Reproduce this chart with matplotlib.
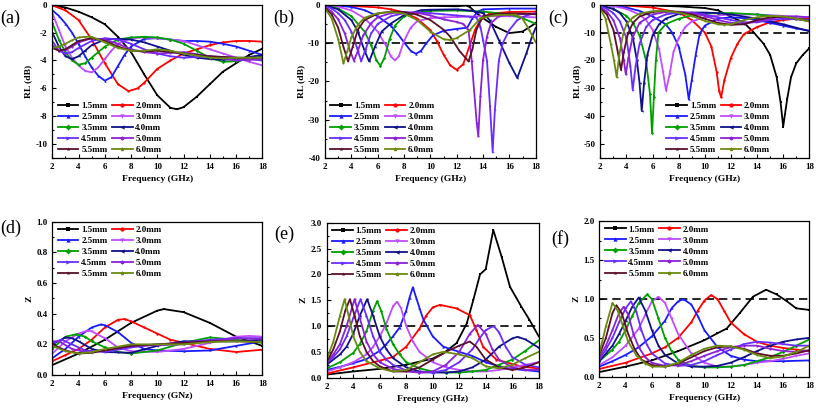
import matplotlib.pyplot as plt
from matplotlib.ticker import MultipleLocator, AutoMinorLocator, FormatStrFormatter

plt.rcParams['font.family'] = ['Liberation Serif', 'DejaVu Serif']
plt.rcParams['font.weight'] = 'bold'
plt.rcParams['axes.labelweight'] = 'bold'

thick = ['1.5mm', '2.0mm', '2.5mm', '3.0mm', '3.5mm', '4.0mm', '4.5mm', '5.0mm', '5.5mm', '6.0mm']
colors = ['#000000', '#ff0000', '#1a1aff', '#c04cff', '#00a000', '#10108a', '#6a2cff', '#8a22d8', '#5a0f2a', '#6b8a10']
markers = ['s', 'o', '^', 'v', 'D', '<', '>', 'h', '*', 'p']

# (a) RL, sample 1
a_x = [
    [2, 3, 4, 5, 6, 7, 8, 9, 10, 11, 11.5, 12, 13, 14, 15, 16, 17, 18],
    [2, 3, 4, 5, 6, 7, 7.8, 8.5, 9, 10, 11, 12, 13, 14, 15, 16, 17, 18],
    [2, 2.5, 3, 3.5, 4, 4.5, 5, 5.5, 6, 6.5, 7, 7.5, 8, 9, 10, 11, 12, 13, 14, 15, 16, 17, 18],
    [2, 2.5, 3, 3.5, 4, 4.5, 5, 5.5, 6, 6.5, 7, 8, 9, 10, 11, 12, 13, 14, 15, 16, 17, 18],
    [2, 2.5, 3, 3.5, 4, 4.5, 5, 5.5, 6, 7, 8, 9, 10, 11, 12, 13, 14, 15, 16, 17, 18],
    [2, 2.5, 3, 3.5, 4, 4.5, 5, 6, 7, 8, 9, 10, 11, 12, 13, 14, 15, 16, 17, 18],
    [2, 2.5, 3, 3.5, 4, 5, 6, 7, 8, 9, 10, 11, 12, 13, 14, 15, 16, 17, 18],
    [2, 2.5, 3, 3.5, 4, 5, 6, 7, 8, 9, 10, 11, 12, 13, 14, 15, 16, 17, 18],
    [2, 2.5, 3, 3.5, 4, 5, 6, 7, 8, 9, 10, 11, 12, 13, 14, 15, 16, 17, 18],
    [2, 2.5, 3, 3.5, 4, 4.5, 5, 6, 7, 8, 9, 10, 11, 12, 13, 14, 15, 16, 17, 18],
]
a_y = [
    [-0.05, -0.2, -0.5, -0.9, -1.4, -2.3, -3.4, -5.0, -6.5, -7.4, -7.5, -7.35, -6.6, -5.7, -4.8, -4.2, -3.6, -3.15],
    [-0.05, -0.4, -1.1, -2.5, -4.2, -5.7, -6.2, -6.0, -5.6, -4.6, -4.0, -3.5, -3.2, -2.9, -2.7, -2.6, -2.6, -2.65],
    [-0.4, -0.8, -1.35, -2.0, -2.8, -3.7, -4.5, -5.1, -5.45, -5.2, -4.4, -3.6, -3.0, -2.45, -2.4, -2.5, -2.6, -2.6, -2.65, -2.8, -3.0, -3.3, -3.6],
    [-0.6, -1.8, -3.0, -3.8, -4.35, -4.75, -4.85, -4.5, -3.9, -3.3, -2.8, -2.4, -2.35, -2.4, -2.5, -2.6, -2.9, -3.2, -3.5, -3.8, -4.1, -4.35],
    [-1.3, -2.5, -3.4, -4.0, -4.3, -4.2, -3.8, -3.4, -3.0, -2.5, -2.35, -2.3, -2.35, -2.5, -2.8, -3.3, -3.8, -4.1, -4.05, -3.9, -3.7],
    [-2.0, -3.0, -3.7, -3.9, -3.7, -3.3, -2.9, -2.5, -2.45, -2.5, -2.7, -3.0, -3.3, -3.6, -3.8, -3.9, -3.95, -3.9, -3.75, -3.6],
    [-2.6, -3.3, -3.5, -3.4, -3.1, -2.6, -2.4, -2.5, -2.8, -3.2, -3.5, -3.7, -3.8, -3.75, -3.7, -3.75, -3.8, -3.9, -4.0],
    [-2.9, -3.3, -3.25, -3.0, -2.7, -2.4, -2.5, -2.8, -3.2, -3.4, -3.5, -3.45, -3.4, -3.55, -3.7, -3.85, -4.0, -3.95, -3.9],
    [-3.1, -3.3, -3.2, -2.9, -2.6, -2.4, -2.6, -3.0, -3.3, -3.35, -3.3, -3.4, -3.5, -3.6, -3.7, -3.75, -3.8, -3.8, -3.8],
    [-3.1, -3.0, -2.8, -2.55, -2.35, -2.3, -2.3, -2.7, -3.1, -3.3, -3.3, -3.2, -3.3, -3.5, -3.65, -3.8, -3.85, -3.8, -3.8, -3.8],
]

# (b) RL, sample 2
b_x = [
    [2, 4, 6, 8, 10, 12, 12.7, 13, 13.5, 14, 15, 16, 17, 18],
    [2, 4, 6, 7, 8, 9, 10, 10.5, 11, 11.5, 12, 12.5, 13, 13.4, 13.8, 14.5, 16, 18],
    [2, 3, 4, 5, 6, 7, 7.5, 8, 8.5, 8.9, 9.3, 9.7, 10.2, 11, 12, 12.8, 13.2, 13.6, 14, 16, 18],
    [2, 3, 4, 5, 6, 6.6, 7, 7.3, 7.6, 8, 8.5, 9, 10, 11, 12, 13, 14, 16, 18],
    [2, 3, 4, 5, 5.5, 5.9, 6.2, 6.5, 6.9, 7.3, 8, 9, 10, 12, 14, 16, 17, 18],
    [2, 3, 4, 4.5, 5, 5.35, 5.8, 6.3, 7, 8, 9.3, 10, 12, 13, 14, 14.5, 15.2, 16, 16.6, 17.3, 17.7, 18],
    [2, 2.5, 3, 3.5, 4, 4.4, 4.75, 5.1, 5.5, 6, 7, 8, 9, 10, 11, 12, 13, 13.5, 13.8, 14, 14.3, 14.53, 14.73, 14.9, 15.2, 15.5, 16, 16.6, 17.3, 18],
    [2, 2.5, 3, 3.5, 3.9, 4.2, 4.5, 4.9, 5.5, 6, 7, 8, 9, 10, 11, 12, 12.5, 12.9, 13.14, 13.52, 13.64, 13.8, 14, 14.3, 14.6, 15.2, 16, 18],
    [2, 2.5, 3, 3.4, 3.75, 4.1, 4.5, 5, 6, 7, 8, 9, 10, 11, 11.5, 12.2, 12.9, 13.2, 13.5, 14, 15, 16, 17, 18],
    [2, 2.5, 3, 3.4, 3.7, 4, 4.5, 5, 6, 7, 8, 9, 10, 11, 11.5, 12, 13, 13.8, 15, 16.5, 17, 17.5, 18],
]
b_y = [
    [0, -0.05, -0.1, -0.2, -0.3, -0.4, -0.2, -0.6, -2.2, -3.5, -5.8, -7.4, -7.0, -4.8],
    [0, -0.3, -0.7, -1.2, -2.0, -3.6, -6.6, -9.5, -13, -15.8, -17.0, -15.5, -10.5, -6.5, -4.0, -2.3, -1.9, -1.8],
    [0, -0.2, -0.6, -1.4, -3.0, -5.5, -7.5, -9.8, -12, -12.8, -12, -10, -8, -6.8, -6.3, -6.0, -3.5, -1.8, -1.2, -1.0, -1.0],
    [0, -0.5, -1.5, -3.5, -7, -10.5, -13.5, -14.5, -13.5, -9.5, -6, -4.3, -3.5, -3.3, -3.2, -3.1, -3.0, -3.0, -3.3],
    [-0.1, -1, -3, -7, -10.5, -14.5, -15.9, -14, -9, -5.5, -3, -2, -1.6, -1.5, -1.8, -2.5, -3.5, -5],
    [-0.2, -1.2, -4, -7, -12, -14.8, -10.9, -7.0, -4.9, -2.7, -1.4, -1.3, -1.2, -1.5, -2.2, -4, -9.2, -15.2, -19.1, -12.6, -8.5, -6.0],
    [-0.3, -1, -2.2, -4, -7, -11, -14.7, -11.5, -7.5, -5, -3, -2.2, -2, -2.2, -2.5, -2.8, -3.1, -3.3, -5.7, -9.2, -14.6, -26.5, -38.4, -27.4, -14.6, -10, -6.6, -4.0, -2.8, -2.2],
    [-0.5, -1.8, -3.8, -7.5, -12, -14.6, -12, -8, -4.8, -3.3, -2.2, -1.9, -2.1, -2.8, -3.8, -4.5, -5, -6.6, -14.6, -30.8, -34.3, -23.9, -14.4, -8.3, -4.8, -3.0, -2.6, -2.3],
    [-0.8, -2.5, -6, -11, -14.8, -11, -6.5, -4, -2.3, -1.8, -1.9, -2.6, -4.0, -6.5, -8.3, -12, -14.8, -11.5, -6.5, -3.0, -2.4, -2.3, -2.3, -2.5],
    [-1.0, -3.5, -9, -15.3, -12, -8.5, -5.2, -3.4, -2.2, -1.9, -2.3, -4.0, -7.0, -9.0, -9.2, -8.7, -6.6, -3.5, -2.7, -2.6, -3.6, -6.5, -9.8],
]

# (c) RL, sample 3
c_x = [
    [2, 6, 8, 10, 11, 12, 13, 13.7, 14.5, 15, 15.5, 15.8, 16.0, 16.3, 16.6, 17, 17.5, 18],
    [2, 4, 6, 8, 9, 10, 10.5, 10.9, 11.1, 11.25, 11.5, 12, 12.5, 13, 14, 15, 16, 17, 18],
    [2, 3, 4, 5, 6, 7, 7.5, 8, 8.5, 8.77, 9.0, 9.3, 9.6, 10, 11, 12, 13, 14, 15, 16, 17, 18],
    [2, 3, 4, 5, 5.5, 6, 6.5, 6.8, 7.03, 7.3, 7.6, 8, 8.5, 9, 10, 11, 12, 14, 16, 18],
    [2, 3, 4, 4.5, 5, 5.5, 5.8, 5.96, 6.1, 6.25, 6.45, 7, 8, 9, 10, 11, 12, 14, 16, 18],
    [2, 3, 3.5, 4, 4.5, 4.8, 5.0, 5.17, 5.35, 5.6, 6, 6.5, 7, 8, 9, 10, 11, 12, 14, 16, 18],
    [2, 2.5, 3, 3.5, 4, 4.3, 4.48, 4.7, 5, 5.5, 6, 7, 8, 9, 10, 11, 12, 13, 14, 15, 16, 18],
    [2, 2.5, 3, 3.5, 3.8, 3.95, 4.15, 4.45, 5, 6, 7, 8, 9, 10, 11, 12, 13, 14, 15, 16, 17, 18],
    [2, 2.5, 3, 3.3, 3.58, 3.8, 4.1, 4.5, 5, 6, 7, 8, 9, 10, 11, 12, 13, 14, 15, 16, 17, 18],
    [2, 2.4, 2.8, 3.05, 3.25, 3.45, 3.75, 4.0, 4.5, 5, 6, 7, 8, 9, 10, 11, 11.5, 12, 13, 14, 15, 16, 17, 18],
]
c_y = [
    [0, -0.3, -0.6, -1.2, -2.0, -4.3, -6.5, -9.7, -14, -18, -26, -35, -43.7, -34, -26, -21, -18, -15.6],
    [0, -0.3, -1.0, -2.8, -5.5, -10, -15, -24, -31, -33.2, -27, -19, -14, -10.5, -8, -6.3, -5.5, -5.0, -4.8],
    [0, -0.3, -1.0, -2.2, -4.2, -7, -10, -15, -25, -33.9, -27, -18, -10.5, -7.5, -5, -4.5, -4.8, -5.5, -6.5, -7.5, -8.5, -9.3],
    [0, -0.5, -1.5, -3.5, -5.5, -9, -16, -24, -30.8, -25, -17, -12, -8, -6, -4.5, -3.8, -3.5, -3.5, -4, -4.5],
    [-0.3, -1.5, -4, -6.5, -11, -20, -32, -46.1, -33, -20, -10, -7, -5, -3.8, -3.2, -3.0, -3.0, -3.5, -4.5, -5.5],
    [-0.3, -1.5, -3, -6, -12, -20, -28, -38.1, -28, -18, -11, -7, -5, -3.3, -2.8, -2.8, -3.0, -3.5, -5, -7, -9.5],
    [-0.5, -1.5, -3, -6, -12, -22, -30.6, -22, -14, -8, -5.5, -3.5, -2.8, -2.8, -3.5, -4.5, -5.5, -6.3, -6.3, -5.5, -5.0, -5.5],
    [-0.9, -2.5, -5.5, -12, -20, -25, -19, -12, -6.5, -3.5, -2.6, -2.5, -3.0, -4.0, -5.5, -6.5, -6.8, -6.0, -5.0, -4.3, -4.2, -4.5],
    [-1.2, -3.5, -9, -16, -23.4, -17, -10.5, -6.5, -4.2, -2.6, -2.2, -2.6, -3.5, -5.0, -6.5, -7.2, -7.0, -5.5, -4.5, -4.3, -5.0, -6.0],
    [-1.5, -5, -14, -20, -26, -18, -10.5, -7, -4.5, -3.2, -2.3, -2.2, -2.8, -4.0, -5.8, -7.0, -7.2, -7.0, -5.5, -4.5, -4.0, -4.2, -5.0, -6.0],
]

# (d) Z, sample 1
d_x = [
    [2, 4, 6, 8, 10, 10.5, 12, 14, 16, 18],
    [2, 3, 4, 5, 6, 7, 7.5, 8, 9, 10, 11, 12, 14, 16, 18],
    [2, 3, 4, 5, 5.7, 6, 7, 8, 9, 10, 12, 14, 16, 18],
    [2, 3, 4, 4.7, 5, 6, 7, 8, 10, 12, 14, 16, 17, 18],
    [2, 3, 3.8, 4.5, 5, 6, 7, 8, 10, 12, 14, 16, 18],
    [2, 3, 3.5, 4, 5, 6, 8, 10, 12, 14, 16, 18],
    [2, 2.7, 3.5, 4.5, 6, 8, 10, 12, 14, 16, 18],
    [2, 2.5, 3.5, 4.5, 6, 8, 10, 12, 14, 16, 18],
    [2, 3, 4, 5, 6, 8, 10, 12, 14, 16, 18],
    [2, 3, 4, 5, 6, 8, 10, 12, 14, 16, 18],
]
d_y = [
    [0.065, 0.14, 0.23, 0.34, 0.42, 0.43, 0.41, 0.34, 0.25, 0.19],
    [0.09, 0.13, 0.17, 0.23, 0.31, 0.36, 0.365, 0.35, 0.31, 0.27, 0.23, 0.21, 0.17, 0.15, 0.165],
    [0.11, 0.17, 0.25, 0.31, 0.33, 0.325, 0.28, 0.21, 0.17, 0.16, 0.155, 0.16, 0.19, 0.22],
    [0.14, 0.22, 0.27, 0.29, 0.285, 0.24, 0.18, 0.155, 0.15, 0.17, 0.21, 0.25, 0.255, 0.25],
    [0.17, 0.25, 0.265, 0.25, 0.22, 0.18, 0.15, 0.14, 0.16, 0.21, 0.245, 0.23, 0.21],
    [0.2, 0.245, 0.24, 0.22, 0.17, 0.15, 0.145, 0.19, 0.22, 0.22, 0.22, 0.23],
    [0.21, 0.23, 0.2, 0.16, 0.15, 0.18, 0.2, 0.21, 0.23, 0.24, 0.24],
    [0.22, 0.22, 0.17, 0.15, 0.16, 0.19, 0.195, 0.2, 0.22, 0.24, 0.235],
    [0.2, 0.16, 0.14, 0.145, 0.16, 0.19, 0.2, 0.21, 0.22, 0.22, 0.215],
    [0.19, 0.155, 0.14, 0.15, 0.17, 0.2, 0.2, 0.2, 0.215, 0.22, 0.215],
]

# (e) Z, sample 2
e_x = [
    [2, 4, 6, 8, 10, 10.8, 11.8, 12.57, 13.06, 13.57, 14.0, 14.57, 15.2, 15.83, 16.7, 17.3, 18],
    [2, 4, 6, 7, 8, 9, 9.5, 10, 10.55, 11.8, 12.8, 13.3, 13.8, 14.8, 16.8, 18],
    [2, 3, 4, 5, 6, 6.5, 7, 7.5, 8, 8.25, 8.5, 8.75, 9, 9.3, 10, 10.8, 12, 13, 14, 15, 16, 18],
    [2, 3, 4, 5, 5.5, 6, 6.5, 7, 7.3, 7.6, 8, 8.5, 9, 10, 11, 12, 13, 14, 15, 16, 17, 18],
    [2, 3, 4, 4.5, 5, 5.5, 5.8, 6.1, 6.5, 7, 7.5, 8, 9, 10, 11, 12, 13, 14, 15, 16, 17, 18],
    [2, 3, 3.5, 4, 4.5, 5.05, 5.5, 6, 6.5, 7, 8, 9, 10, 11, 12, 13, 14, 15, 16, 16.4, 17, 18],
    [2, 2.5, 3, 3.5, 4, 4.55, 5, 5.5, 6, 6.5, 7, 8, 9, 10, 11, 12, 13, 13.5, 14, 14.6, 15, 15.5, 16, 17, 18],
    [2, 2.5, 3, 3.5, 4.1, 4.5, 5, 5.5, 6, 7, 8, 9, 10, 11, 12, 12.8, 13.4, 14, 14.5, 15, 16, 17, 18],
    [2, 2.5, 3, 3.4, 3.75, 4.1, 4.5, 5, 5.5, 6, 7, 8, 9, 10, 11, 12, 12.8, 13.3, 14, 15, 16, 17, 18],
    [2, 2.5, 3, 3.35, 3.7, 4, 4.5, 5, 6, 7, 8, 9, 10, 10.8, 12, 13, 14, 15, 16, 17, 18],
]
e_y = [
    [0.06, 0.12, 0.17, 0.25, 0.37, 0.47, 0.67, 1.05, 1.5, 2.0, 2.1, 2.86, 2.34, 1.76, 1.37, 1.12, 0.8],
    [0.08, 0.2, 0.33, 0.4, 0.6, 0.95, 1.2, 1.36, 1.41, 1.34, 1.21, 0.92, 0.6, 0.35, 0.21, 0.18],
    [0.15, 0.21, 0.28, 0.36, 0.52, 0.65, 0.8, 0.97, 1.3, 1.55, 1.75, 1.55, 1.35, 1.12, 0.8, 0.6, 0.5, 0.42, 0.3, 0.22, 0.17, 0.12],
    [0.12, 0.2, 0.3, 0.45, 0.6, 0.8, 1.05, 1.38, 1.47, 1.35, 1.0, 0.7, 0.5, 0.3, 0.2, 0.15, 0.12, 0.12, 0.15, 0.2, 0.25, 0.3],
    [0.18, 0.3, 0.48, 0.65, 0.9, 1.3, 1.48, 1.3, 0.95, 0.65, 0.45, 0.3, 0.18, 0.12, 0.1, 0.1, 0.12, 0.15, 0.25, 0.35, 0.52, 0.72],
    [0.25, 0.45, 0.6, 0.85, 1.2, 1.52, 1.2, 0.8, 0.55, 0.38, 0.2, 0.12, 0.1, 0.1, 0.12, 0.2, 0.35, 0.6, 0.76, 0.79, 0.74, 0.58],
    [0.28, 0.4, 0.55, 0.8, 1.15, 1.52, 1.2, 0.8, 0.5, 0.35, 0.25, 0.14, 0.1, 0.1, 0.15, 0.3, 0.55, 0.75, 0.92, 1.0, 0.88, 0.6, 0.4, 0.25, 0.2],
    [0.3, 0.45, 0.65, 1.0, 1.52, 1.15, 0.7, 0.45, 0.3, 0.17, 0.12, 0.1, 0.12, 0.25, 0.5, 0.85, 1.02, 0.85, 0.55, 0.35, 0.2, 0.15, 0.15],
    [0.3, 0.55, 0.9, 1.3, 1.52, 1.2, 0.8, 0.5, 0.32, 0.22, 0.12, 0.12, 0.2, 0.35, 0.5, 0.62, 0.7, 0.6, 0.35, 0.2, 0.15, 0.2, 0.3],
    [0.35, 0.7, 1.2, 1.52, 1.15, 0.8, 0.5, 0.32, 0.18, 0.12, 0.15, 0.3, 0.45, 0.5, 0.45, 0.38, 0.22, 0.18, 0.25, 0.38, 0.5],
]

# (f) Z, sample 3
f_x = [
    [2, 4, 6, 8, 10, 11, 11.7, 12.7, 13.7, 14.7, 15.5, 16.3, 17, 18],
    [2, 4, 6, 7, 8, 9, 9.5, 10, 10.5, 11, 11.5, 12, 13, 14, 15, 16, 17, 18],
    [2, 3, 4, 5, 6, 7, 7.5, 8, 8.4, 9, 9.5, 10, 11, 12, 13, 14, 16, 18],
    [2, 3, 4, 5, 5.5, 6, 6.5, 7, 7.5, 8, 9, 10, 11, 12, 13, 14, 15, 16, 17, 18],
    [2, 3, 3.5, 4, 4.5, 5, 5.65, 6, 6.5, 7, 7.5, 8, 9, 10, 11, 12, 13, 14, 15, 16, 17, 18],
    [2, 2.5, 3, 3.5, 4, 4.5, 5.0, 5.5, 6, 6.5, 7, 8, 9, 10, 11, 12, 13, 14, 15, 16, 17, 18],
    [2, 2.5, 3, 3.5, 4, 4.4, 4.8, 5.2, 5.6, 6, 7, 8, 9, 10, 11, 12, 13, 14, 15, 16, 17, 18],
    [2, 2.5, 3, 3.5, 3.85, 4.2, 4.6, 5, 5.5, 6, 7, 8, 9, 10, 11, 12, 13, 14, 15, 16, 17, 18],
    [2, 2.5, 3, 3.3, 3.7, 4.2, 4.7, 5.2, 6, 7, 8, 9, 10, 11, 12, 13, 14, 15, 16, 17, 18],
    [2, 2.5, 3.0, 3.4, 3.8, 4.2, 4.8, 5.5, 6, 7, 8, 9, 10, 11, 12, 13, 14, 15, 16, 17, 18],
]
f_y = [
    [0.06, 0.13, 0.21, 0.33, 0.47, 0.56, 0.62, 0.82, 1.03, 1.12, 1.06, 0.97, 0.88, 0.86],
    [0.1, 0.18, 0.3, 0.38, 0.5, 0.7, 0.85, 0.98, 1.05, 1.0, 0.85, 0.7, 0.55, 0.45, 0.4, 0.37, 0.35, 0.33],
    [0.13, 0.2, 0.28, 0.38, 0.52, 0.72, 0.88, 0.97, 1.0, 0.93, 0.78, 0.6, 0.38, 0.27, 0.22, 0.2, 0.2, 0.21],
    [0.15, 0.25, 0.4, 0.62, 0.8, 0.97, 1.03, 0.95, 0.75, 0.55, 0.3, 0.18, 0.13, 0.13, 0.15, 0.18, 0.2, 0.23, 0.27, 0.3],
    [0.2, 0.35, 0.45, 0.6, 0.78, 0.95, 1.06, 1.0, 0.75, 0.5, 0.33, 0.22, 0.14, 0.12, 0.12, 0.13, 0.15, 0.2, 0.25, 0.32, 0.4, 0.48],
    [0.2, 0.3, 0.4, 0.55, 0.72, 0.9, 1.02, 0.85, 0.6, 0.4, 0.28, 0.17, 0.13, 0.13, 0.14, 0.18, 0.25, 0.33, 0.4, 0.45, 0.48, 0.5],
    [0.22, 0.35, 0.5, 0.7, 0.88, 0.97, 0.85, 0.6, 0.42, 0.3, 0.17, 0.14, 0.15, 0.2, 0.28, 0.35, 0.42, 0.45, 0.44, 0.42, 0.4, 0.4],
    [0.25, 0.4, 0.6, 0.82, 0.9, 0.8, 0.55, 0.38, 0.25, 0.18, 0.14, 0.15, 0.2, 0.27, 0.33, 0.38, 0.4, 0.4, 0.36, 0.33, 0.32, 0.34],
    [0.28, 0.5, 0.82, 0.92, 0.82, 0.55, 0.35, 0.22, 0.15, 0.13, 0.17, 0.25, 0.33, 0.38, 0.39, 0.36, 0.3, 0.27, 0.27, 0.3, 0.34],
    [0.3, 0.65, 0.95, 0.85, 0.65, 0.45, 0.28, 0.17, 0.13, 0.13, 0.18, 0.28, 0.36, 0.4, 0.39, 0.35, 0.28, 0.24, 0.26, 0.32, 0.4],
]

fig = plt.figure(figsize=(8.16, 4.08), dpi=100)

panels = [
    # data, axes box, ylim, ystep, fmt, ylabel, xlabel, dashed, legend loc, anchor, tag, tag pos
    (a_x, a_y, [0.0641, 0.6127, 0.2574, 0.3757], (-11, 0), 2, '%d', 'RL (dB)', 'Frequency (GHz)', None, 'lower left', (0.0, -0.01), '(a)', (0.0, 0.955)),
    (b_x, b_y, [0.3983, 0.6127, 0.2582, 0.3757], (-40, 0), 10, '%d', 'RL (dB)', 'Frequency (GHz)', -10, 'lower left', (0.0, -0.01), '(b)', (0.335, 0.955)),
    (c_x, c_y, [0.7357, 0.6127, 0.2561, 0.3757], (-55, 0), 10, '%d', 'RL (dB)', 'Frequency (GHz)', -10, 'lower left', (0.29, -0.01), '(c)', (0.672, 0.955)),
    (d_x, d_y, [0.0641, 0.0809, 0.2574, 0.3757], (0, 1.0), 0.2, '%.1f', 'Z', 'Frequency (GNz)', None, 'upper left', (0.0, 1.01), '(d)', (0.0, 0.44)),
    (e_x, e_y, [0.4004, 0.0743, 0.2598, 0.3799], (0, 3.0), 0.5, '%.1f', 'Z', 'Frequency (GHz)', 1.0, 'upper left', (0.0, 1.01), '(e)', (0.336, 0.425)),
    (f_x, f_y, [0.7345, 0.0767, 0.2574, 0.3807], (0, 2.0), 0.5, '%.1f', 'Z', 'Frequency (GHz)', 1.0, 'upper left', (0.0, 1.01), '(f)', (0.676, 0.415)),
]

# legend is read row by row: 1.5 2.0 / 2.5 3.0 / ...
order = [0, 2, 4, 6, 8, 1, 3, 5, 7, 9]

for (xs, ys, box, ylim, ystep, fmt, ylab, xlab, dash, loc, anchor, tag, tagpos) in panels:
    ax = fig.add_axes(box)
    lines = []
    for i in range(len(thick)):
        ln, = ax.plot(xs[i], ys[i], color=colors[i], marker=markers[i], ms=1.7, lw=1.3,
                      mew=0, label=thick[i])
        lines.append(ln)
    if dash is not None:
        ax.axhline(dash, color='black', ls=(0, (5, 3)), lw=1.2, zorder=1)
    ax.set_xlim(2, 18)
    ax.set_ylim(*ylim)
    ax.xaxis.set_major_locator(MultipleLocator(2))
    ax.xaxis.set_minor_locator(AutoMinorLocator(2))
    ax.yaxis.set_major_locator(MultipleLocator(ystep))
    ax.yaxis.set_minor_locator(AutoMinorLocator(2))
    ax.yaxis.set_major_formatter(FormatStrFormatter(fmt))
    ax.tick_params(which='both', direction='in', labelsize=6.5, width=0.8)
    ax.tick_params(which='major', length=3)
    ax.tick_params(which='minor', length=1.6)
    for s in ax.spines.values():
        s.set_linewidth(0.9)
    ax.set_xlabel(xlab, fontsize=6.8, labelpad=3)
    ax.set_ylabel(ylab, fontsize=6.8, labelpad=2)
    ax.legend([lines[k] for k in order], [thick[k] for k in order], loc=loc,
              bbox_to_anchor=anchor, ncol=2, frameon=False, fontsize=6.5,
              handlelength=2.3, handletextpad=0.3, columnspacing=0.5,
              labelspacing=0.3, borderaxespad=0.2, markerscale=1.8)
    fig.text(tagpos[0], tagpos[1], tag, fontsize=13, fontweight='normal', va='center')

fig.savefig('out.png', dpi=100)
